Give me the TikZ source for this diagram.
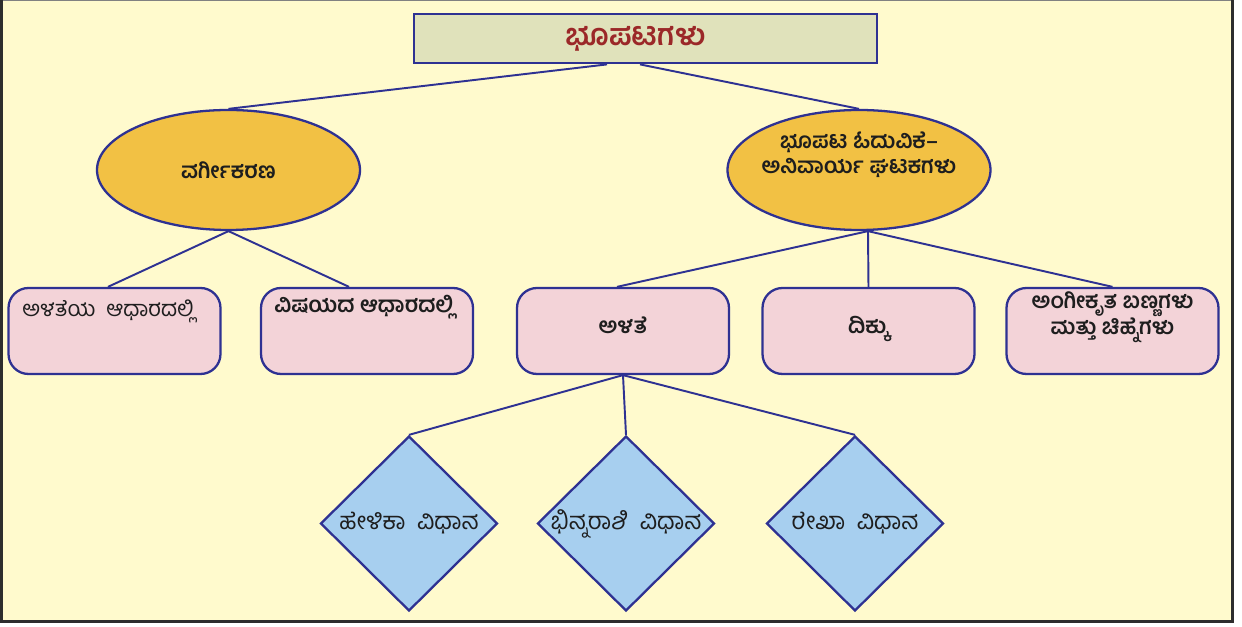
\documentclass[tikz,border=0pt]{standalone}
\usepackage{fontspec}
\usepackage{tikz}
\usetikzlibrary{shapes.geometric, positioning, calc}
\newfontfamily\kanfont[Script=Kannada]{Hind Mysuru}
\definecolor{bgyellow}{RGB}{255,250,205}
\definecolor{framegray}{RGB}{45,45,45}
\definecolor{myblue}{RGB}{46,49,146}
\definecolor{titlefill}{RGB}{224,226,187}
\definecolor{titlered}{RGB}{155,40,40}
\definecolor{ovalfill}{RGB}{242,193,68}
\definecolor{boxfill}{RGB}{243,211,216}
\definecolor{diafill}{RGB}{167,207,239}
\definecolor{textdark}{RGB}{30,30,30}
\newcommand{\twolines}[2]{\raisebox{-0.07cm}[0pt][0pt]{\makebox[0pt]{\begin{tabular}[b]{@{}c@{}}#1\\#2\end{tabular}}}}
\newcommand{\flatline}[1]{\raisebox{-0.06cm}[0pt][0pt]{\makebox[0pt]{#1}}}
\tikzset{
  topbox/.style={rectangle, draw=myblue, fill=titlefill, line width=1.6pt,
    minimum width=9.26cm, minimum height=0.98cm, inner sep=0pt,
    font=\kanfont\fontsize{17}{20}\selectfont\bfseries, text=titlered},
  ovalnode/.style={ellipse, draw=myblue, fill=ovalfill, line width=1.3pt,
    minimum width=5.26cm, minimum height=2.4cm, inner sep=0pt, align=center,
    font=\kanfont\fontsize{12.5}{14.2}\selectfont\bfseries, text=textdark},
  leafbox/.style={rectangle, rounded corners=0.4cm, draw=myblue, fill=boxfill,
    line width=1.3pt, minimum width=4.24cm, minimum height=1.72cm,
    inner sep=0pt, align=center,
    font=\kanfont\fontsize{12.5}{14.2}\selectfont\bfseries, text=textdark},
  leaftext/.style={inner sep=0pt, text=textdark},
  methodnode/.style={diamond, draw=myblue, fill=diafill, line width=1.3pt,
    minimum width=3.54cm, minimum height=3.5cm, inner sep=0pt,
    font=\kanfont\fontsize{13.6}{16}\selectfont, text=textdark},
  link/.style={myblue, line width=1.1pt}
}
\begin{document}
\begin{tikzpicture}
  \useasboundingbox (0,0) rectangle (24.84,-12.54);
  % background panel
  \fill[bgyellow] (0.02,-0.01) rectangle (24.65,-12.43);
  \draw[framegray!60, line width=0.5pt] (0.02,-0.01) -- (24.65,-0.01);
  \draw[framegray, line width=1.7pt] (0.03,-0.01) -- (0.03,-12.43) -- (24.65,-12.43) -- (24.65,-0.01);

  \node[topbox] (maps) at (12.91,-0.77) {\hspace*{-0.4cm}ಭೂಪಟಗಳು};

  \node[ovalnode] (cls) at (4.57,-3.40) {ವರ್ಗೀಕರಣ};
  \node[ovalnode] (read) at (17.18,-3.40) {\twolines{ಭೂಪಟ ಓದುವಿಕೆ–}{ಅನಿವಾರ್ಯ ಘಟಕಗಳು}};

  \node[leafbox] (scl) at (2.29,-6.62) {};
  \node[leafbox] (subj) at (7.34,-6.62) {};
  \node[leafbox] (ala) at (12.46,-6.62) {\flatline{ಅಳತೆ}};
  \node[leafbox] (dik) at (17.37,-6.62) {\flatline{ದಿಕ್ಕು}};
  \node[leafbox] (sym) at (22.25,-6.62) {\twolines{ಅಂಗೀಕೃತ ಬಣ್ಣಗಳು}{ಮತ್ತು ಚಿಹ್ನೆಗಳು}};

  \node[leaftext, anchor=west, font=\kanfont\fontsize{12.5}{14.2}\selectfont] (scltxt) at (0.44,-6.22) {ಅಳತೆಯ \ ಆಧಾರದಲ್ಲಿ};
  \node[leaftext, anchor=west, font=\kanfont\fontsize{12.5}{14.2}\selectfont\bfseries] (subjtxt) at (5.48,-6.14) {ವಿಷಯದ ಆಧಾರದಲ್ಲಿ};

  \node[methodnode] (m1) at (8.18,-10.47) {\raisebox{0.08cm}{\makebox[0pt]{ಹೇಳಿಕಾ \ ವಿಧಾನ}}};
  \node[methodnode] (m2) at (12.52,-10.47) {\raisebox{0.08cm}{\makebox[0pt]{ಭಿನ್ನರಾಶಿ \ ವಿಧಾನ}}};
  \node[methodnode] (m3) at (17.10,-10.47) {\raisebox{0.08cm}{\makebox[0pt]{ರೇಖಾ \ ವಿಧಾನ}}};

  % links
  \draw[link] ([xshift=-0.77cm]maps.south) -- (cls.north);
  \draw[link] ([xshift=-0.11cm]maps.south) -- (read.north);
  \draw[link] (cls.south) -- ([xshift=-0.13cm]scl.north);
  \draw[link] (cls.south) -- ([xshift=-0.36cm]subj.north);
  \draw[link] ([xshift=0.18cm]read.south) -- ([xshift=-0.12cm]ala.north);
  \draw[link] ([xshift=0.18cm]read.south) -- (dik.north);
  \draw[link] ([xshift=0.18cm]read.south) -- (sym.north);
  \draw[link] (ala.south) -- (m1.north);
  \draw[link] (ala.south) -- (m2.north);
  \draw[link] (ala.south) -- (m3.north);
\end{tikzpicture}
\end{document}
